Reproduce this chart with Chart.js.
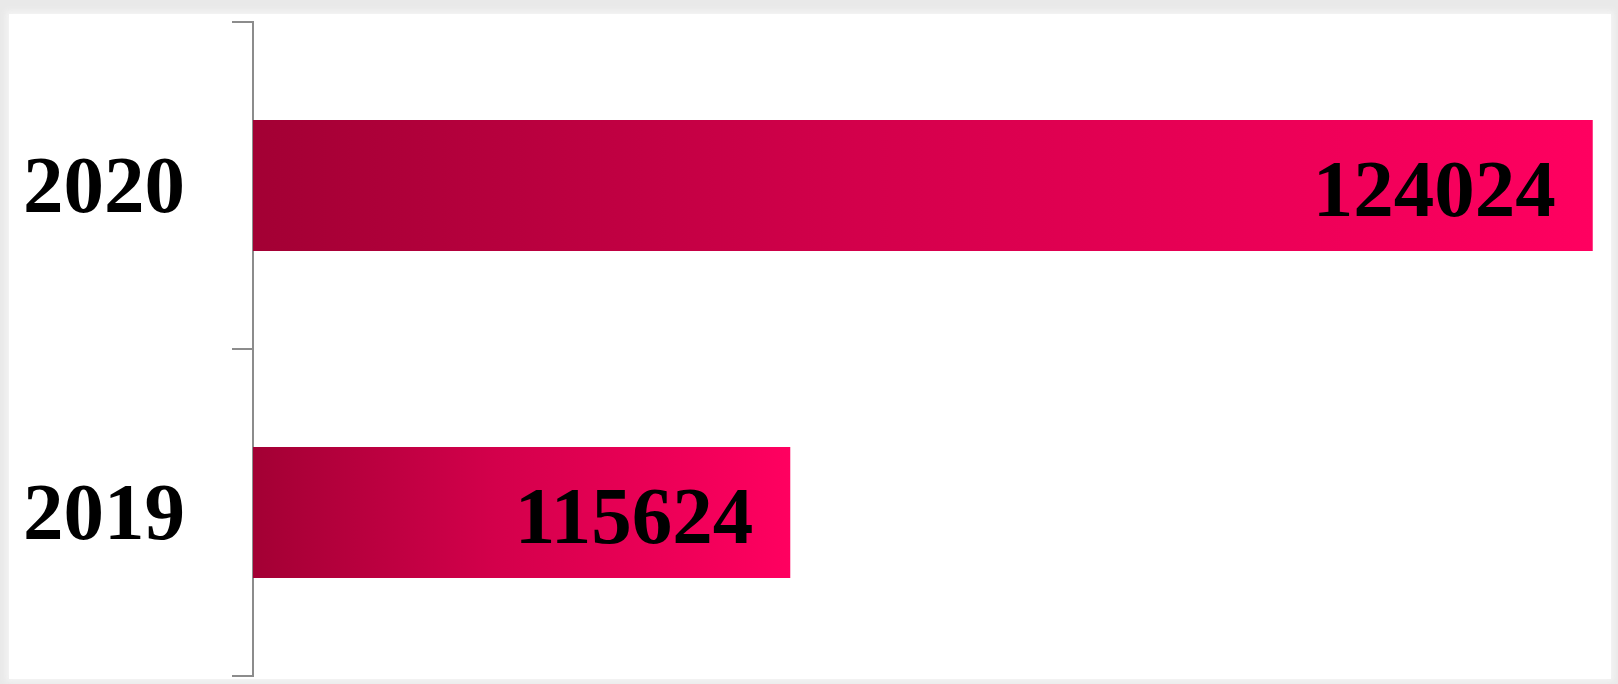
<!DOCTYPE html>
<html>
<head>
<meta charset="utf-8">
<script src="https://cdn.jsdelivr.net/npm/chart.js@4/dist/chart.umd.min.js"></script>
<style>
  html, body { margin: 0; padding: 0; background: #e9e9e9; width: 1618px; height: 684px; overflow: hidden; }
  #box { position: absolute; left: 9px; top: 14px; width: 1602px; height: 665px; background: #fff;
         box-shadow: 0 0 6px 3px #f4f4f4; }
  canvas { display: block; }
</style>
</head>
<body>
<div id="box"><canvas id="c" width="1602" height="665"></canvas></div>
<script>
const categories = ['2020', '2019'];
const values = [124024, 115624];
const axisMin = 110000;
const axisMax = 124100;

const ctx = document.getElementById('c').getContext('2d');

function barGradient(context) {
  const chart = context.chart;
  const xs = chart.scales && chart.scales.x;
  if (!xs || context.parsed === undefined) return '#d4004a';
  const x0 = xs.getPixelForValue(axisMin);
  const x1 = xs.getPixelForValue(context.parsed.x);
  if (!isFinite(x0) || !isFinite(x1) || x1 <= x0) return '#d4004a';
  const g = chart.ctx.createLinearGradient(x0, 0, x1, 0);
  g.addColorStop(0, '#a30034');
  g.addColorStop(0.45, '#d3004b');
  g.addColorStop(1, '#ff0060');
  return g;
}

const valueLabels = {
  id: 'valueLabels',
  afterDatasetsDraw(chart) {
    const c = chart.ctx;
    const meta = chart.getDatasetMeta(0);
    c.save();
    c.font = 'bold 81px "Liberation Serif"';
    c.fillStyle = '#000';
    c.textAlign = 'right';
    c.textBaseline = 'middle';
    meta.data.forEach((el, i) => {
      const v = chart.data.datasets[0].data[i];
      c.fillText(String(v), el.x - 37, el.y + 10);
    });
    c.restore();
  }
};

new Chart(ctx, {
  type: 'bar',
  data: {
    labels: categories,
    datasets: [{
      data: values,
      backgroundColor: barGradient,
      borderWidth: 0,
      barPercentage: 0.4,
      categoryPercentage: 1.0
    }]
  },
  options: {
    indexAxis: 'y',
    responsive: false,
    animation: false,
    layout: { padding: { top: 8, bottom: 3, right: 11, left: 0 } },
    plugins: { legend: { display: false }, tooltip: { enabled: false } },
    scales: {
      x: {
        display: false,
        min: axisMin,
        max: axisMax
      },
      y: {
        grid: {
          offset: true,
          drawOnChartArea: false,
          drawTicks: true,
          tickLength: 21,
          color: '#8c8c8c',
          lineWidth: 2
        },
        border: { display: true, color: '#8c8c8c', width: 2 },
        ticks: {
          color: '#000',
          padding: 47,
          labelOffset: 6,
          font: { family: '"Liberation Serif"', size: 81, weight: 'bold' }
        },
        afterFit(scale) {
          scale.width = 244;
          scale.paddingTop = 0;
          scale.paddingBottom = 0;
        }
      }
    }
  },
  plugins: [valueLabels]
});
</script>
</body>
</html>
